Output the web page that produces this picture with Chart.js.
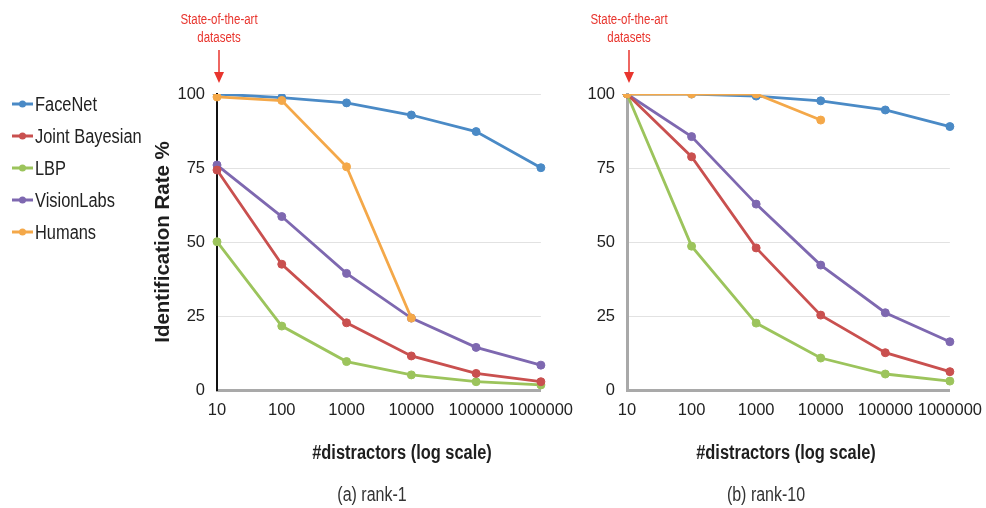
<!DOCTYPE html>
<html>
<head>
<meta charset="utf-8">
<script src="https://cdn.jsdelivr.net/npm/chart.js@4.4.1/dist/chart.umd.min.js"></script>
<style>
  html, body { margin: 0; padding: 0; background: #fff; width: 986px; height: 508px; overflow: hidden; position: relative; }
  #wrapA { position: absolute; left: 0; top: 0; width: 584px; height: 508px; }
  #wrapB { position: absolute; left: 584px; top: 0; width: 409px; height: 508px; }
</style>
</head>
<body>
<div id="wrapA"><canvas id="rank1"></canvas></div>
<div id="wrapB"><canvas id="rank10"></canvas></div>
<script>
// Number of distractors (log-spaced categories)
const distractors = ['10', '100', '1000', '10000', '100000', '1000000'];
const yTicks = [0, 25, 50, 75, 100];
const seriesNames = ['FaceNet', 'Joint Bayesian', 'LBP', 'VisionLabs', 'Humans'];
const seriesColors = ['#4a8ac6', '#c9504f', '#9cc45c', '#7e68b0', '#f4a849'];

// Rank-1 identification rate (%)
const rank1FaceNet    = [100, 98.8, 97.0, 92.9, 87.3, 75.1];
const rank1JointBayes = [74.3, 42.5, 22.7, 11.5, 5.6, 2.8];
const rank1LBP        = [50.1, 21.6, 9.6, 5.1, 2.8, 1.7];
const rank1VisionLabs = [76.0, 58.6, 39.4, 24.3, 14.4, 8.4];
const rank1Humans     = [99.0, 97.8, 75.4, 24.3, null, null];

// Rank-10 identification rate (%)
const rank10FaceNet    = [100, 100, 99.3, 97.7, 94.6, 89.0];
const rank10JointBayes = [100, 78.8, 48.0, 25.3, 12.6, 6.2];
const rank10LBP        = [100, 48.6, 22.6, 10.8, 5.4, 3.0];
const rank10VisionLabs = [100, 85.6, 62.8, 42.2, 26.1, 16.3];
const rank10Humans     = [100, 100, 100, 91.2, null, null];

const SANS = "'Liberation Sans', Arial, Helvetica, sans-serif";
const SQUEEZE = 0.82;   // horizontal squeeze for the condensed lettering

function makeDatasets(values) {
  return values.map((v, i) => ({
    label: seriesNames[i],
    data: v,
    borderColor: seriesColors[i],
    backgroundColor: seriesColors[i],
    borderWidth: 2.8,
    pointRadius: 4,
    pointBorderWidth: 1,
    pointHoverRadius: 4,
    tension: 0,
    spanGaps: false,
    // humans drawn above the other curves
    order: i === 4 ? 0 : 1
  }));
}

// condensed text: regular face squeezed horizontally
function narrowText(ctx, text, x, y, font, sx) {
  ctx.save();
  ctx.translate(x, y);
  ctx.scale(sx || SQUEEZE, 1);
  ctx.font = font;
  ctx.fillText(text, 0, 0);
  ctx.restore();
}

// Titles, caption, legend and the "state-of-the-art" marker
const decor = {
  id: 'decor',
  afterDraw(chart, args, opts) {
    const ctx = chart.ctx;
    const area = chart.chartArea;
    const x0 = chart.scales.x.getPixelForValue(0) + 2;
    ctx.save();

    // annotation above the first category
    ctx.fillStyle = '#e8352e';
    ctx.strokeStyle = '#e8352e';
    ctx.textAlign = 'center';
    ctx.textBaseline = 'middle';
    narrowText(ctx, 'State-of-the-art', x0, 20, '14px ' + SANS);
    narrowText(ctx, 'datasets', x0, 38, '14px ' + SANS);
    ctx.lineWidth = 1.5;
    ctx.beginPath();
    ctx.moveTo(x0, 50);
    ctx.lineTo(x0, 74);
    ctx.stroke();
    ctx.beginPath();
    ctx.moveTo(x0 - 5, 72);
    ctx.lineTo(x0 + 5, 72);
    ctx.lineTo(x0, 83);
    ctx.closePath();
    ctx.fill();

    // x-axis title
    ctx.fillStyle = '#1e1e1e';
    narrowText(ctx, '#distractors (log scale)', opts.xTitleX, 453, 'bold 20px ' + SANS);

    // caption
    ctx.fillStyle = '#333';
    narrowText(ctx, opts.caption, opts.captionX, 496, '19.5px ' + SANS);

    // y-axis title
    if (opts.yTitle) {
      ctx.save();
      ctx.translate(163, (area.top + area.bottom) / 2);
      ctx.rotate(-Math.PI / 2);
      ctx.fillStyle = '#1e1e1e';
      ctx.font = 'bold 20.5px ' + SANS;
      ctx.fillText('Identification Rate %', 0, 0);
      ctx.restore();
    }

    // legend
    if (opts.legend) {
      ctx.textAlign = 'left';
      chart.data.datasets.forEach((ds, i) => {
        const y = 104 + i * 32;
        ctx.strokeStyle = ds.borderColor;
        ctx.fillStyle = ds.borderColor;
        ctx.lineWidth = 3;
        ctx.beginPath();
        ctx.moveTo(12, y);
        ctx.lineTo(33, y);
        ctx.stroke();
        ctx.beginPath();
        ctx.arc(22.5, y, 3.5, 0, Math.PI * 2);
        ctx.fill();
        ctx.fillStyle = '#222';
        narrowText(ctx, ds.label, 35, y + 1, '20px ' + SANS);
      });
    }
    ctx.restore();
  }
};

function makeChart(id, values, cfg) {
  return new Chart(document.getElementById(id), {
    type: 'line',
    data: { labels: distractors, datasets: makeDatasets(values) },
    plugins: [decor],
    options: {
      responsive: true,
      maintainAspectRatio: false,
      animation: false,
      devicePixelRatio: 1,
      layout: { padding: { left: cfg.padLeft, right: 0, top: 94, bottom: 88 } },
      scales: {
        x: {
          type: 'category',
          offset: false,
          grid: { display: false, drawTicks: false },
          border: { display: true, color: '#a9a9a9', width: 3 },
          ticks: { color: '#222', font: { family: SANS, size: 16.5 }, padding: 11, maxRotation: 0, autoSkip: false },
          afterFit(scale) { scale.height = 30; }
        },
        y: {
          min: 0,
          max: 100,
          afterBuildTicks(scale) { scale.ticks = yTicks.map(v => ({ value: v })); },
          grid: {
            drawTicks: false,
            color: c => (c.tick && c.tick.value === 0) ? 'rgba(0,0,0,0)' : '#e2e2e2',
            lineWidth: 1
          },
          border: { display: true, color: cfg.yBorder, width: cfg.yBorderWidth },
          ticks: { color: '#222', font: { family: SANS, size: 16.5 }, padding: 12 },
          afterFit(scale) { scale.width = cfg.yWidth; }
        }
      },
      plugins: {
        legend: { display: false },
        tooltip: { enabled: false },
        decor: cfg.decor
      }
    }
  });
}

makeChart('rank1',
  [rank1FaceNet, rank1JointBayes, rank1LBP, rank1VisionLabs, rank1Humans],
  { padLeft: 150, yWidth: 67, yBorder: '#111', yBorderWidth: 2,
    decor: { legend: true, yTitle: true, xTitleX: 402, captionX: 372, caption: '(a) rank-1' } });

makeChart('rank10',
  [rank10FaceNet, rank10JointBayes, rank10LBP, rank10VisionLabs, rank10Humans],
  { padLeft: 0, yWidth: 43, yBorder: '#a9a9a9', yBorderWidth: 3,
    decor: { legend: false, yTitle: false, xTitleX: 202, captionX: 182, caption: '(b) rank-10' } });
</script>
</body>
</html>
